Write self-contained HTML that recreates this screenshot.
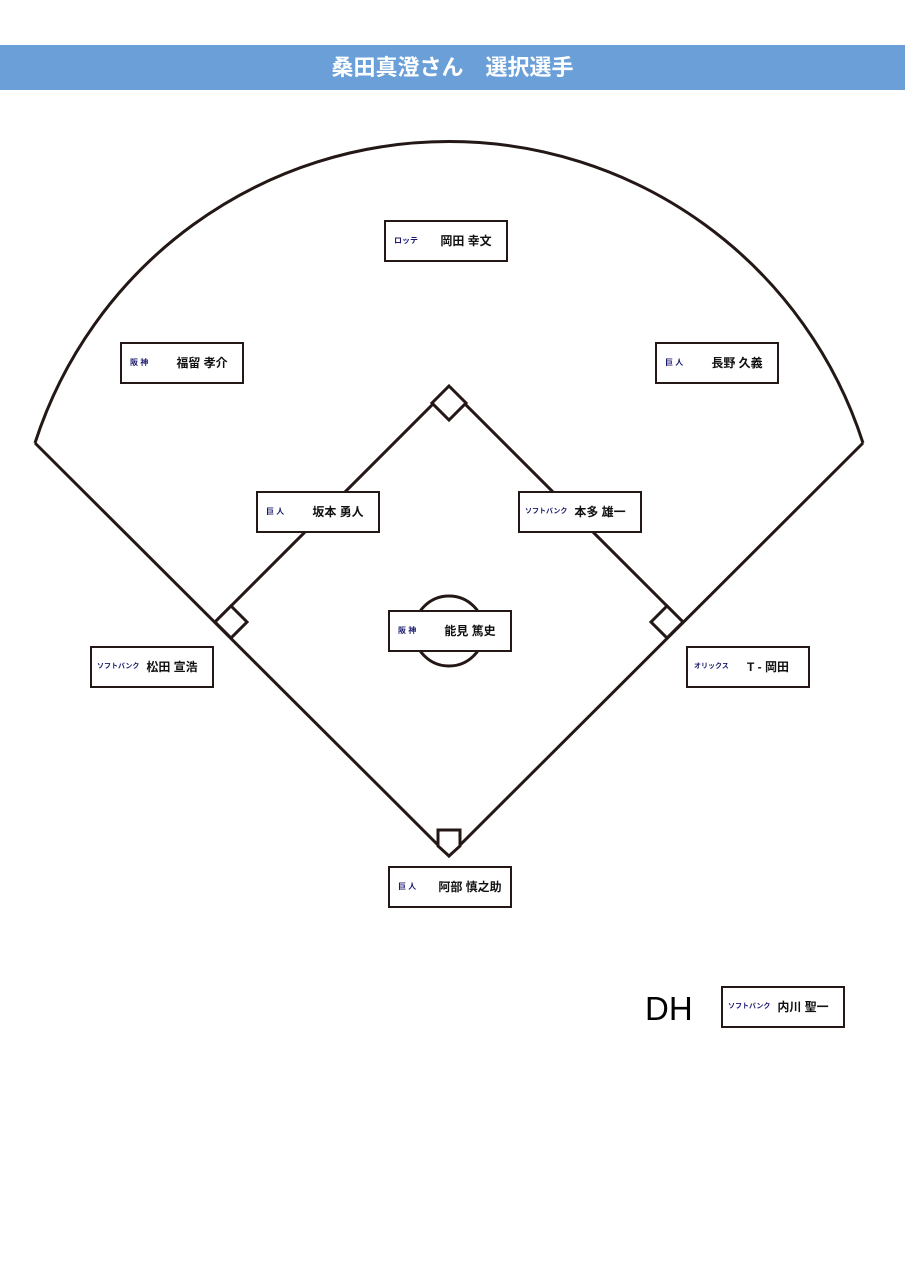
<!DOCTYPE html>
<html><head><meta charset="utf-8"><style>
body{margin:0;width:905px;height:1280px;background:#fff;position:relative;overflow:hidden;font-family:"Liberation Sans","Noto Sans CJK JP",sans-serif}
.hd{position:absolute;left:0;top:45px;width:905px;height:45px;background:#6a9fd8;color:#fff;font-weight:bold;font-size:22px;line-height:45px;text-align:center}
.b{position:absolute;width:120px;height:38px;border:2px solid #231815;background:#fff;box-sizing:content-box}
.b .t{position:absolute;left:8px;top:0;line-height:38px;font-size:8px;color:#1a1a6e;font-weight:bold}
.b .n{position:absolute;left:40px;right:0;top:0;line-height:38px;font-size:12px;font-weight:bold;text-align:center;color:#111}
</style></head><body>
<div class="hd">桑田真澄さん　選択選手</div>
<svg width="905" height="1280" style="position:absolute;left:0;top:0" fill="none" stroke="#231815" stroke-width="3">
<path d="M35 443 A435 435 0 0 1 863 443"/>
<path d="M35 443 L449 856 L863 443"/>
<path d="M215 622 L449 388 L683 622"/>
<path d="M449 386 L466 403 L449 420 L432 403 Z" fill="#fff"/>
<path d="M683 622 L667 638 L651 622 L667 606 Z" fill="#fff"/>
<path d="M215 622 L231 606 L247 622 L231 638 Z" fill="#fff"/>
<path d="M438 830 L460 830 L460 846 L449 856 L438 846 Z" fill="#fff"/>
<circle cx="449" cy="631" r="35" fill="#fff"/>
<text x="645" y="1020" fill="#000" stroke="none" font-size="33" font-family="Liberation Sans, sans-serif">DH</text>
</svg>
<div class="b" style="left:384px;top:220px"><span class="t">ロッテ</span><span class="n">岡田 幸文</span></div>
<div class="b" style="left:120px;top:342px"><span class="t">阪 神</span><span class="n">福留 孝介</span></div>
<div class="b" style="left:655px;top:342px"><span class="t">巨 人</span><span class="n">長野 久義</span></div>
<div class="b" style="left:256px;top:491px"><span class="t">巨 人</span><span class="n">坂本 勇人</span></div>
<div class="b" style="left:518px;top:491px"><span class="t" style="font-size:7px;left:5px">ソフトバンク</span><span class="n">本多 雄一</span></div>
<div class="b" style="left:388px;top:610px"><span class="t">阪 神</span><span class="n">能見 篤史</span></div>
<div class="b" style="left:90px;top:646px"><span class="t" style="font-size:7px;left:5px">ソフトバンク</span><span class="n">松田 宣浩</span></div>
<div class="b" style="left:686px;top:646px"><span class="t" style="font-size:7px;left:6px">オリックス</span><span class="n">T - 岡田</span></div>
<div class="b" style="left:388px;top:866px"><span class="t">巨 人</span><span class="n">阿部 慎之助</span></div>
<div class="b" style="left:721px;top:986px"><span class="t" style="font-size:7px;left:5px">ソフトバンク</span><span class="n">内川 聖一</span></div>
</body></html>
